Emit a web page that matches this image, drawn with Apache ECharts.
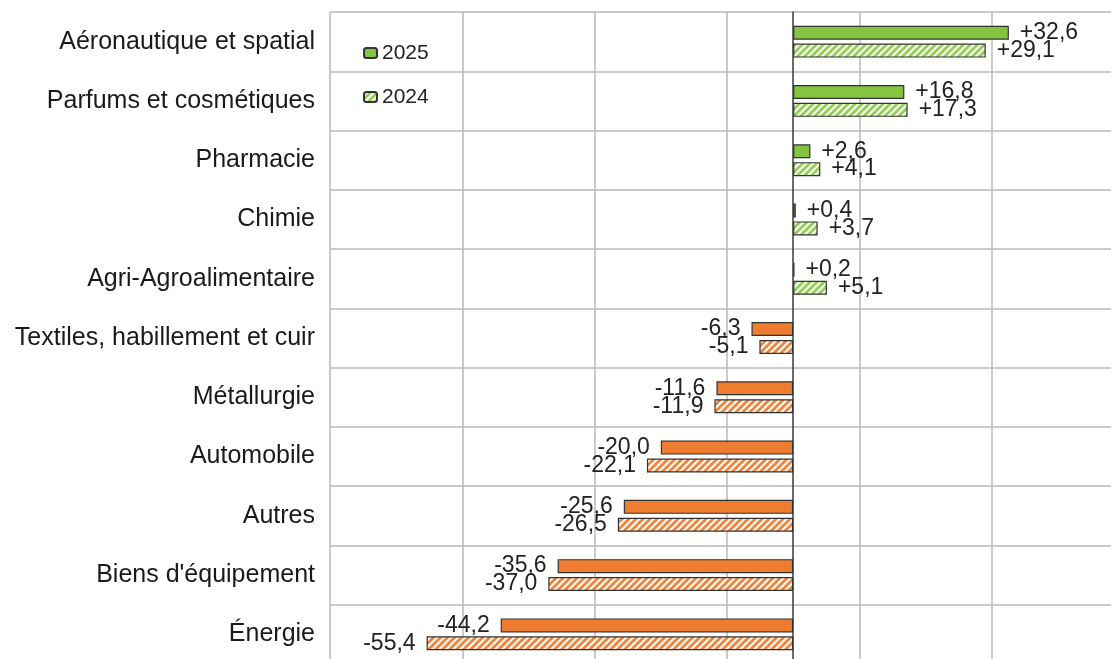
<!DOCTYPE html>
<html>
<head>
<meta charset="utf-8">
<script src="https://cdn.jsdelivr.net/npm/echarts@6/dist/echarts.min.js"></script>
<style>html,body{margin:0;padding:0;background:#fff;overflow:hidden}#c{width:1124px;height:664px}</style>
</head>
<body>
<div id="c"></div>
<script>
const categories = ['Aéronautique et spatial','Parfums et cosmétiques','Pharmacie','Chimie','Agri-Agroalimentaire','Textiles, habillement et cuir','Métallurgie','Automobile','Autres',"Biens d'équipement",'Énergie'];
const values2025 = [32.6, 16.8, 2.6, 0.4, 0.2, -6.3, -11.6, -20.0, -25.6, -35.6, -44.2];
const values2024 = [29.1, 17.3, 4.1, 3.7, 5.1, -5.1, -11.9, -22.1, -26.5, -37.0, -55.4];
const seriesNames = ['2025', '2024'];

const GREEN = '#84c441', ORANGE = '#ee7d31';
const FONT = "'Liberation Sans', Arial, sans-serif";

function hatch(color) {
  const s = 7;
  const cv = document.createElement('canvas');
  cv.width = s; cv.height = s;
  const ctx = cv.getContext('2d');
  ctx.fillStyle = '#fff'; ctx.fillRect(0, 0, s, s);
  ctx.strokeStyle = color; ctx.lineWidth = 2.8;
  [[0, s, s, 0], [-s/2, s/2, s/2, -s/2], [s/2, s*1.5, s*1.5, s/2]].forEach(l => {
    ctx.beginPath(); ctx.moveTo(l[0], l[1]); ctx.lineTo(l[2], l[3]); ctx.stroke();
  });
  return { image: cv, repeat: 'repeat' };
}
const hatchGreen = hatch('#92d050');
const hatchOrange = hatch('#f0843a');

function fmt(v) { return (v > 0 ? '+' : '') + v.toFixed(1).replace('.', ','); }

function items(vals, solid) {
  return vals.map(v => ({
    value: v,
    itemStyle: { color: v >= 0 ? (solid ? GREEN : hatchGreen) : (solid ? ORANGE : hatchOrange) },
    label: { position: v >= 0 ? 'right' : 'left' }
  }));
}

const chart = echarts.init(document.getElementById('c'), null, { renderer: 'canvas' });
const labelCommon = {
  show: true, distance: 11, fontSize: 23, fontFamily: FONT, color: '#222',
  formatter: p => fmt(p.value)
};
chart.setOption({
  animation: false,
  textStyle: { fontFamily: FONT },
  grid: { left: 330, right: 0, top: 12, bottom: 0, containLabel: false },
  legend: {
    orient: 'vertical', left: 363, top: 42, padding: 0,
    itemWidth: 13, itemHeight: 10, itemGap: 22,
    textStyle: { fontSize: 21, color: '#222', fontFamily: FONT, lineHeight: 22, padding: [0, 0, 0, 0] },
    data: seriesNames
  },
  xAxis: {
    type: 'value', min: -70, max: 50, interval: 20,
    axisLabel: { show: false }, axisTick: { show: false }, axisLine: { show: false },
    splitLine: { show: true, lineStyle: { color: '#b8b8b8', width: 1.5 } }
  },
  yAxis: {
    type: 'category', inverse: true, data: categories,
    axisTick: { show: false },
    axisLine: { show: true, onZero: true, lineStyle: { color: '#3a3a3a', width: 1.5 } },
    axisLabel: { fontSize: 25, color: '#1a1a1a', fontFamily: FONT, margin: 15 },
    splitLine: { show: true, lineStyle: { color: '#b8b8b8', width: 1.5 } }
  },
  series: [
    {
      name: seriesNames[0], type: 'bar', barWidth: 14, barGap: '28%',
      itemStyle: { color: GREEN, borderColor: '#333', borderWidth: 1.2 },
      label: labelCommon,
      data: items(values2025, true)
    },
    {
      name: seriesNames[1], type: 'bar', barWidth: 14, barGap: '28%',
      itemStyle: { color: hatchGreen, borderColor: '#333', borderWidth: 1.2 },
      label: labelCommon,
      data: items(values2024, false)
    }
  ]
});
</script>
</body>
</html>
